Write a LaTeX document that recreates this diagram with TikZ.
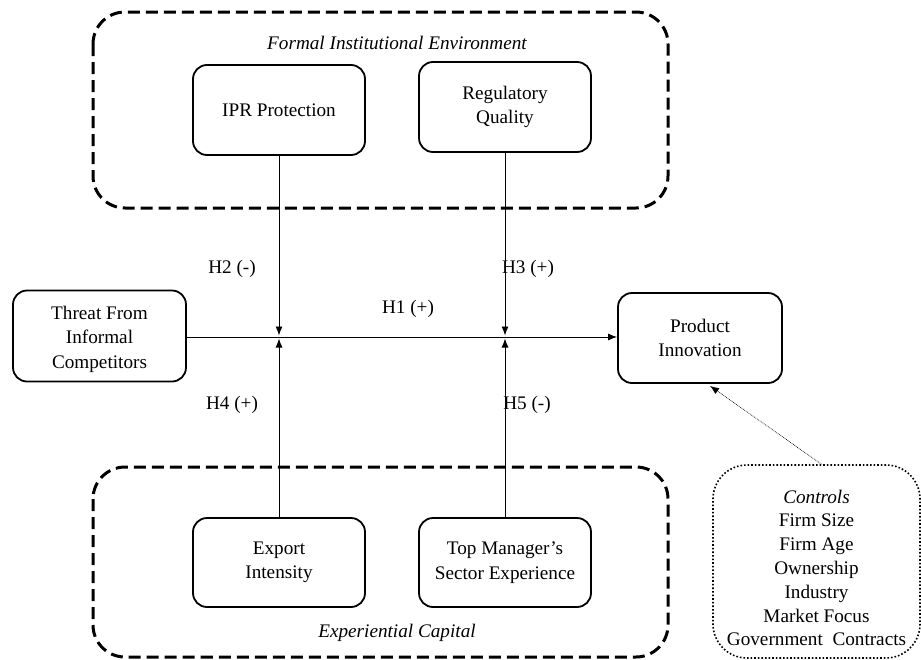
\documentclass[tikz,border=0pt]{standalone}
\usepackage{fontspec}
\setmainfont{Liberation Serif}
\usetikzlibrary{arrows.meta}
\begin{document}
\begin{tikzpicture}[x=1pt,y=-1pt,
  every node/.style={font=\fontsize{19.2}{24.5}\selectfont},
  var/.style={draw,line width=1.8pt,rounded corners=14pt,align=center,inner sep=0pt},
  group/.style={draw,line width=3pt,rounded corners=32pt,dash pattern=on 12pt off 6pt},
  conn/.style={line width=0.9pt,-{Latex[length=9pt,width=7pt]}},
  ctrl/.style={draw,line width=1.6pt,dotted,rounded corners=34pt,align=center,inner sep=0pt,font=\fontsize{19.2}{23.8}\selectfont},
  lab/.style={inner sep=0pt}]
\useasboundingbox (0,0) rectangle (921,659);
% group frames
\draw[group] (93,12) rectangle (668,208);
\draw[group] (93,467) rectangle (668,657);
\node[lab] (fie) at (397,43) {\itshape Formal Institutional Environment};
\node[lab] (ec) at (397,633) {\itshape Experiential Capital};
% variables
\node[var,minimum width=172pt,minimum height=90pt] (ipr) at (279,110) {IPR Protection};
\node[var,minimum width=172pt,minimum height=90pt] (reg) at (505,107) {Regulatory\\Quality};
\node[var,minimum width=172pt,minimum height=89pt] (exp) at (279,562.5) {Export\\Intensity};
\node[var,minimum width=172pt,minimum height=89pt] (top) at (505,562.5) {Top Manager's\\Sector Experience};
\node[var,minimum width=173pt,minimum height=91pt] (thr) at (99.5,336) {\rule{0pt}{20pt}Threat From\\Informal\\Competitors};
\node[var,minimum width=164pt,minimum height=90pt] (prod) at (700,338) {Product\\Innovation};
\node[ctrl,minimum width=207pt,minimum height=193pt] (ctl) at (816.5,561.5) {\rule{0pt}{26pt}\itshape Controls\\Firm Size\\Firm Age\\Ownership\\Industry\\Market Focus\\Government\ \ Contracts};
% junctions
\coordinate (j1a) at (279,335.5);
\coordinate (j1b) at (279,338.5);
\coordinate (j2a) at (505,335.5);
\coordinate (j2b) at (505,338.5);
\coordinate (pin) at (prod.west |- 0,337);
\coordinate (tout) at (thr.east |- 0,337);
% connectors
\draw[conn] (tout) -- (pin);
\draw[conn] (ipr.south) -- (j1a);
\draw[conn] (reg.south) -- (j2a);
\draw[conn] (exp.north) -- (j1b);
\draw[conn] (top.north) -- (j2b);
\draw[line width=0.7pt,densely dotted,-{Latex[length=9pt,width=7pt]}] ([xshift=5pt]ctl.north) -- ([xshift=10pt,yshift=-2pt]prod.south);
% hypothesis labels
\node[lab] (h1) at (408,309) {H1 (+)};
\node[lab] (h2) at (232,269) {H2 (-)};
\node[lab] (h3) at (528,269) {H3 (+)};
\node[lab] (h4) at (232,405) {H4 (+)};
\node[lab] (h5) at (527,405) {H5 (-)};
\end{tikzpicture}
\end{document}
